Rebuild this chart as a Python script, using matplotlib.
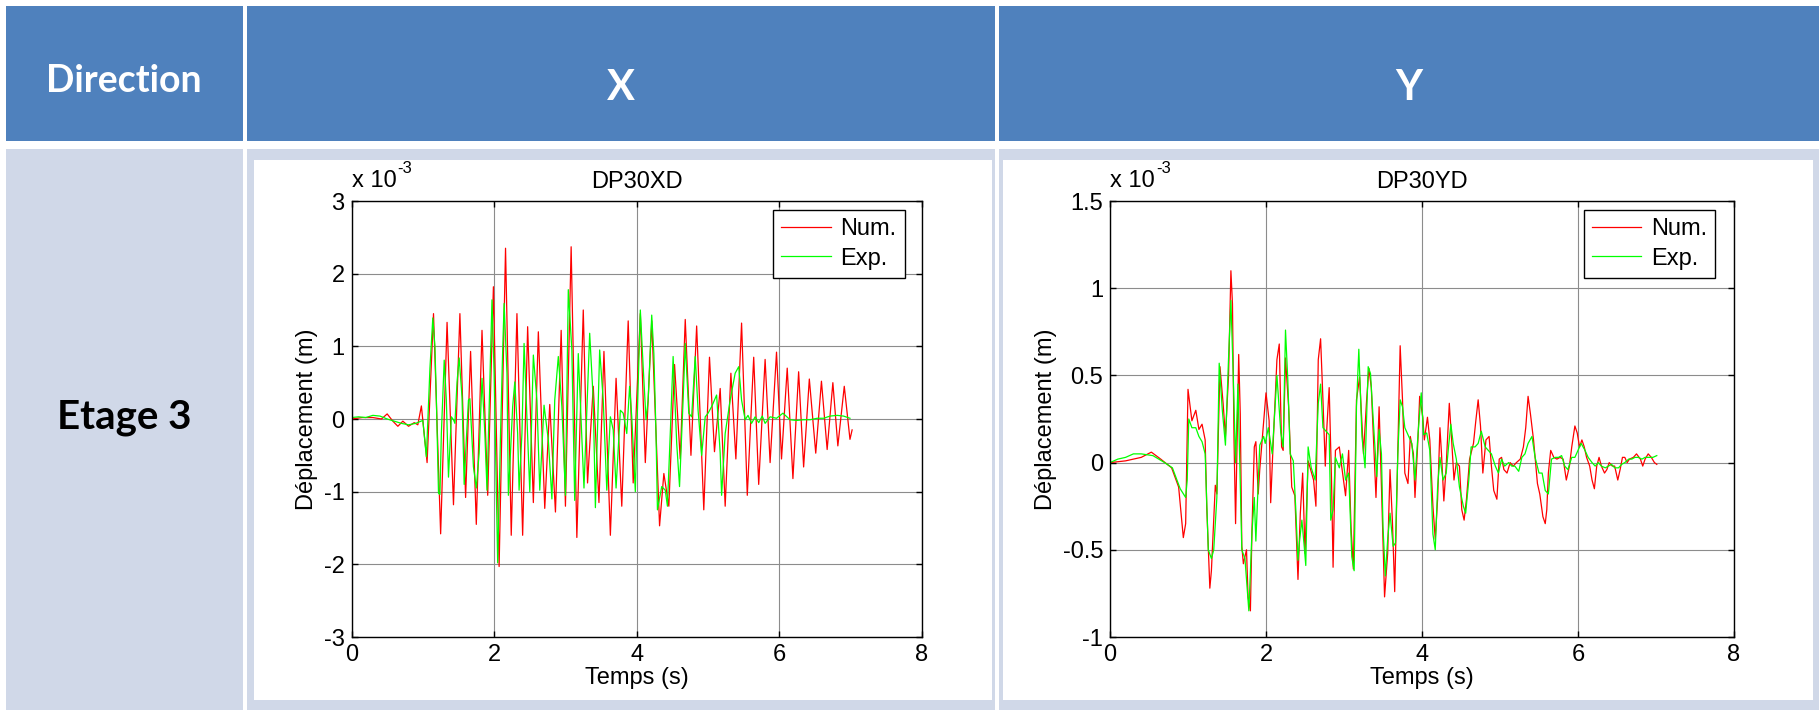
import numpy as np
import matplotlib
matplotlib.use('Agg')
import matplotlib.pyplot as plt
from matplotlib.patches import Rectangle

W, H = 1819, 710

plt.rcParams['font.family'] = ['Liberation Sans', 'DejaVu Sans']
plt.rcParams['axes.unicode_minus'] = False

# table text
col_labels = ['Direction', 'X', 'Y']
row_label = 'Etage 3'
titles = ['DP30XD', 'DP30YD']
series_labels = ['Num.', 'Exp.']

# axis ticks
xticks = [0, 2, 4, 6, 8]
yticks_x = [-3, -2, -1, 0, 1, 2, 3]
yticks_y = [-1, -0.5, 0, 0.5, 1, 1.5]
ytick_labels_y = ['-1', '-0.5', '0', '0.5', '1', '1.5']

# displacement (x 1e-3 m), (time s, value)
num_x = [(0, 0.0), (0.15, 0.02), (0.3, 0.02), (0.42, 0.0), (0.5, 0.07), (0.58, -0.03),
         (0.65, -0.1), (0.72, -0.03), (0.8, -0.1), (0.88, -0.05), (0.93, -0.08), (0.98, 0.18),
         (1.06, -0.6), (1.15, 1.45), (1.25, -1.58), (1.34, 1.33), (1.43, -1.18), (1.52, 1.45),
         (1.6, -1.08), (1.67, 0.93), (1.75, -1.45), (1.83, 1.22), (1.91, -1.05), (1.99, 1.82),
         (2.07, -2.03), (2.16, 2.35), (2.24, -1.6), (2.32, 1.45), (2.4, -1.6), (2.47, 1.27),
         (2.55, -1.15), (2.62, 1.2), (2.71, -1.23), (2.78, 0.2), (2.86, -1.28), (2.94, 1.22),
         (3.0, -1.2), (3.08, 2.37), (3.16, -1.63), (3.25, 1.5), (3.31, -0.88), (3.39, 0.45),
         (3.47, -1.15), (3.54, 0.93), (3.63, -1.6), (3.71, 0.56), (3.79, -1.2), (3.88, 1.35),
         (3.95, -0.88), (4.05, 1.45), (4.12, -0.6), (4.21, 1.35), (4.32, -1.47), (4.38, -0.75),
         (4.45, -1.2), (4.53, 0.75), (4.61, -0.55), (4.68, 1.37), (4.76, -0.5), (4.84, 1.28),
         (4.94, -1.25), (5.02, 0.85), (5.09, -0.45), (5.17, 0.42), (5.24, -1.2), (5.32, 0.63),
         (5.39, -0.55), (5.47, 1.32), (5.55, -1.05), (5.64, 0.85), (5.71, -0.9), (5.8, 0.82),
         (5.87, -0.6), (5.96, 0.92), (6.03, -0.55), (6.11, 0.7), (6.19, -0.82), (6.27, 0.65),
         (6.34, -0.66), (6.42, 0.55), (6.51, -0.47), (6.59, 0.52), (6.67, -0.42), (6.75, 0.5),
         (6.82, -0.37), (6.91, 0.45), (6.99, -0.28), (7.02, -0.15)]

exp_x = [(0, 0.02), (0.1, 0.03), (0.2, 0.02), (0.3, 0.05), (0.4, 0.04), (0.5, 0.0),
         (0.6, -0.03), (0.7, -0.06), (0.8, -0.08), (0.9, -0.06), (1.0, -0.02), (1.05, -0.52),
         (1.1, 0.7), (1.14, 1.39), (1.17, 1.0), (1.19, 0.27), (1.22, -1.02), (1.24, -1.04),
         (1.26, -0.2), (1.3, 0.81), (1.33, 0.26), (1.36, -0.8), (1.4, 0.03), (1.43, -0.01),
         (1.45, -0.06), (1.48, 0.51), (1.51, 0.84), (1.55, 0.3), (1.58, -0.9), (1.61, -0.29),
         (1.64, 0.26), (1.66, 0.28), (1.71, -0.66), (1.75, -0.95), (1.79, -0.47), (1.83, 0.56),
         (1.87, -0.2), (1.9, -0.98), (1.94, 0.49), (1.97, 1.64), (2.0, 0.63), (2.05, -1.98),
         (2.09, -0.2), (2.12, 0.95), (2.14, 1.59), (2.18, 0.63), (2.2, -1.05), (2.22, -0.66),
         (2.26, 0.17), (2.29, 0.51), (2.33, -0.2), (2.35, -0.98), (2.39, -0.2), (2.42, 1.04),
         (2.46, 0.03), (2.5, -1.0), (2.55, 0.88), (2.6, 0.26), (2.64, -0.98), (2.7, 0.19),
         (2.76, -0.29), (2.81, -1.1), (2.85, 0.26), (2.9, 0.86), (2.95, 0.17), (3.0, -1.05),
         (3.04, 1.78), (3.09, 0.95), (3.13, -1.12), (3.18, 0.9), (3.26, -0.95), (3.34, 1.18),
         (3.39, 0.26), (3.42, -1.22), (3.48, 0.95), (3.53, 0.26), (3.58, -0.98), (3.63, 0.03),
         (3.67, -0.15), (3.71, -0.95), (3.77, 0.12), (3.81, 0.08), (3.86, -0.2), (3.9, 0.45),
         (3.93, 0.03), (3.98, -1.0), (4.0, -0.2), (4.05, 1.5), (4.09, 0.72), (4.13, -0.01),
         (4.16, 0.26), (4.21, 1.43), (4.24, 0.9), (4.27, -0.2), (4.29, -1.25), (4.35, -0.93),
         (4.4, -0.98), (4.43, -1.2), (4.47, -0.2), (4.51, 0.86), (4.56, -0.33), (4.6, -0.93),
         (4.65, 0.26), (4.68, 1.04), (4.73, 0.08), (4.77, 0.03), (4.82, 0.86), (4.86, 0.12),
         (4.91, -0.5), (4.96, 0.03), (5.0, 0.08), (5.05, 0.17), (5.12, 0.33), (5.17, -0.47),
         (5.19, -1.05), (5.24, -0.2), (5.31, 0.26), (5.38, 0.63), (5.43, 0.72), (5.47, 0.26),
         (5.52, -0.01), (5.56, 0.05), (5.61, -0.06), (5.66, 0.03), (5.71, -0.05), (5.76, 0.04),
         (5.8, -0.06), (5.87, 0.03), (5.96, 0.01), (6.05, 0.08), (6.15, -0.01), (6.24, -0.02),
         (6.34, -0.01), (6.43, -0.01), (6.53, 0.01), (6.62, 0.01), (6.71, 0.04), (6.81, 0.05),
         (6.9, 0.04), (6.99, 0.01)]

num_y = [(0, 0.0), (0.2, 0.01), (0.4, 0.03), (0.53, 0.06), (0.65, 0.02), (0.79, -0.03),
         (0.88, -0.14), (0.94, -0.43), (0.97, -0.35), (1.0, 0.42), (1.05, 0.24), (1.1, 0.3),
         (1.14, 0.19), (1.18, 0.22), (1.22, 0.13), (1.24, -0.25), (1.28, -0.72), (1.3, -0.62),
         (1.35, -0.13), (1.37, -0.18), (1.41, 0.55), (1.45, 0.34), (1.48, 0.15), (1.52, 0.5),
         (1.55, 1.1), (1.57, 0.91), (1.59, 0.13), (1.61, -0.35), (1.65, 0.62), (1.67, 0.28),
         (1.69, -0.48), (1.71, -0.58), (1.75, -0.5), (1.77, -0.77), (1.8, -0.85), (1.82, -0.39),
         (1.85, 0.09), (1.87, 0.12), (1.9, -0.18), (1.92, -0.04), (1.97, 0.24), (2.0, 0.4),
         (2.04, 0.24), (2.06, -0.23), (2.09, 0.09), (2.14, 0.59), (2.17, 0.68), (2.2, 0.09),
         (2.22, 0.07), (2.25, 0.6), (2.29, 0.32), (2.33, -0.14), (2.37, -0.19), (2.41, -0.67),
         (2.44, -0.29), (2.47, -0.06), (2.5, -0.52), (2.54, 0.01), (2.61, -0.1), (2.64, -0.25),
         (2.67, 0.59), (2.7, 0.71), (2.73, 0.36), (2.76, -0.02), (2.78, 0.2), (2.81, 0.43),
         (2.84, -0.1), (2.86, -0.6), (2.89, 0.07), (2.94, 0.09), (2.97, -0.02), (3.02, -0.19),
         (3.06, 0.07), (3.09, -0.37), (3.12, -0.61), (3.16, 0.36), (3.2, 0.49), (3.25, 0.05),
         (3.29, 0.36), (3.32, 0.54), (3.35, 0.43), (3.41, -0.2), (3.45, 0.32), (3.49, -0.29),
         (3.52, -0.77), (3.56, -0.52), (3.59, -0.04), (3.62, -0.33), (3.65, -0.74), (3.69, 0.05),
         (3.72, 0.67), (3.75, 0.36), (3.78, -0.06), (3.82, -0.12), (3.85, 0.15), (3.89, 0.05),
         (3.91, -0.2), (3.95, 0.15), (3.97, 0.38), (4.01, 0.26), (4.03, 0.13), (4.07, 0.26),
         (4.1, 0.13), (4.14, -0.25), (4.17, -0.44), (4.2, -0.21), (4.23, 0.2), (4.25, 0.05),
         (4.28, -0.22), (4.31, -0.02), (4.35, 0.34), (4.38, 0.13), (4.41, -0.1), (4.44, 0.0),
         (4.48, -0.02), (4.51, -0.27), (4.54, -0.33), (4.57, -0.21), (4.61, 0.02), (4.66, 0.11),
         (4.69, 0.24), (4.72, 0.36), (4.75, 0.21), (4.78, -0.06), (4.82, 0.13), (4.86, 0.15),
         (4.89, -0.02), (4.92, -0.16), (4.96, -0.21), (4.99, 0.02), (5.02, 0.03), (5.05, -0.04),
         (5.09, -0.06), (5.13, 0.0), (5.17, -0.02), (5.21, 0.0), (5.26, 0.02), (5.3, 0.09),
         (5.33, 0.2), (5.36, 0.38), (5.39, 0.28), (5.43, 0.13), (5.45, 0.03), (5.48, -0.12),
         (5.51, -0.18), (5.55, -0.31), (5.58, -0.35), (5.6, -0.27), (5.62, -0.06), (5.65, 0.07),
         (5.69, 0.03), (5.73, 0.02), (5.77, 0.03), (5.81, 0.02), (5.85, -0.1), (5.89, -0.02),
         (5.92, 0.09), (5.96, 0.21), (5.99, 0.17), (6.02, 0.09), (6.05, 0.13), (6.08, 0.09),
         (6.11, 0.03), (6.15, -0.02), (6.18, -0.1), (6.21, -0.15), (6.24, -0.02), (6.27, 0.03),
         (6.3, -0.02), (6.34, -0.06), (6.37, -0.04), (6.4, 0.0), (6.44, -0.02), (6.47, -0.02),
         (6.51, -0.1), (6.54, -0.04), (6.57, 0.03), (6.6, 0.03), (6.63, 0.0), (6.66, 0.02),
         (6.71, 0.03), (6.75, 0.05), (6.8, 0.02), (6.83, -0.02), (6.86, 0.02), (6.9, 0.05),
         (6.94, 0.03), (6.98, 0.0), (7.01, -0.01)]

exp_y = [(0, 0.0), (0.1, 0.02), (0.2, 0.03), (0.3, 0.05), (0.4, 0.05), (0.55, 0.04),
         (0.7, 0.0), (0.8, -0.03), (0.9, -0.15), (0.97, -0.2), (0.99, -0.1), (1.01, 0.25),
         (1.05, 0.2), (1.1, 0.2), (1.14, 0.15), (1.18, 0.12), (1.22, 0.05), (1.26, -0.5),
         (1.3, -0.55), (1.33, -0.5), (1.37, -0.2), (1.4, 0.57), (1.44, 0.3), (1.48, 0.1),
         (1.52, 0.6), (1.55, 0.93), (1.58, 0.5), (1.61, 0.0), (1.64, 0.45), (1.69, -0.5),
         (1.73, -0.55), (1.78, -0.85), (1.82, -0.4), (1.85, -0.2), (1.87, -0.45), (1.92, 0.1),
         (1.97, 0.15), (1.99, 0.11), (2.03, 0.2), (2.08, 0.05), (2.14, 0.5), (2.19, 0.17),
         (2.22, 0.09), (2.25, 0.76), (2.28, 0.47), (2.31, 0.05), (2.35, 0.01), (2.38, -0.25),
         (2.41, -0.56), (2.43, -0.45), (2.46, -0.33), (2.49, -0.48), (2.51, -0.59), (2.54, 0.09),
         (2.58, -0.03), (2.63, -0.1), (2.67, 0.34), (2.7, 0.45), (2.73, 0.2), (2.77, 0.18),
         (2.81, 0.16), (2.83, -0.33), (2.86, -0.27), (2.89, 0.03), (2.94, -0.03), (2.98, 0.05),
         (3.02, -0.1), (3.06, -0.06), (3.1, -0.54), (3.13, -0.62), (3.16, 0.32), (3.19, 0.65),
         (3.23, 0.15), (3.27, -0.03), (3.31, 0.55), (3.34, 0.51), (3.37, 0.28), (3.42, -0.08),
         (3.45, 0.19), (3.48, 0.05), (3.5, -0.37), (3.53, -0.65), (3.56, -0.44), (3.59, -0.29),
         (3.63, -0.48), (3.66, -0.46), (3.69, 0.05), (3.72, 0.36), (3.75, 0.32), (3.78, 0.2),
         (3.83, 0.15), (3.87, 0.11), (3.91, -0.1), (3.95, 0.17), (3.99, 0.4), (4.02, 0.16),
         (4.06, 0.17), (4.1, 0.07), (4.14, -0.41), (4.17, -0.5), (4.2, -0.14), (4.23, 0.03),
         (4.27, -0.1), (4.31, -0.06), (4.34, 0.09), (4.37, 0.22), (4.4, 0.11), (4.44, 0.02),
         (4.48, -0.14), (4.53, -0.25), (4.56, -0.29), (4.6, -0.1), (4.63, 0.09), (4.68, 0.09),
         (4.72, 0.11), (4.76, 0.18), (4.81, 0.09), (4.85, 0.07), (4.89, 0.05), (4.94, -0.02),
         (4.98, -0.06), (5.02, 0.02), (5.06, -0.02), (5.11, 0.0), (5.15, -0.02), (5.19, -0.02),
         (5.24, -0.05), (5.28, 0.03), (5.32, 0.05), (5.36, 0.11), (5.41, 0.15), (5.45, 0.03),
         (5.5, -0.06), (5.54, -0.06), (5.58, -0.16), (5.62, -0.18), (5.66, 0.02), (5.71, 0.03),
         (5.75, 0.03), (5.79, 0.04), (5.83, -0.02), (5.87, -0.04), (5.92, 0.03), (5.96, 0.03),
         (6.0, 0.07), (6.04, 0.11), (6.09, 0.07), (6.13, 0.03), (6.18, 0.0), (6.22, -0.02),
         (6.26, 0.0), (6.3, -0.02), (6.35, -0.03), (6.39, -0.02), (6.43, -0.01), (6.47, -0.03),
         (6.52, -0.03), (6.56, -0.01), (6.6, 0.0), (6.65, 0.02), (6.69, 0.02), (6.73, 0.03),
         (6.77, 0.03), (6.82, 0.02), (6.86, 0.03), (6.92, 0.03), (6.96, 0.03), (7.01, 0.04)]

BLUE = '#4F81BD'
LAVENDER = '#D0D8E8'
FS = 17

fig = plt.figure(figsize=(W / 100, H / 100), dpi=100)
fig.patch.set_facecolor('white')


def box(x0, y0, x1, y1, color):
    """rectangle given in pixel coords, origin top left"""
    fig.add_artist(Rectangle((x0 / W, 1 - y1 / H), (x1 - x0) / W, (y1 - y0) / H,
                             transform=fig.transFigure, facecolor=color,
                             edgecolor='none', zorder=-5))


def label(x, y, s, size, color):
    fig.text(x / W, 1 - y / H, s, ha='center', va='center', fontsize=size,
             color=color, fontweight='bold', family=['Lato', 'DejaVu Sans'])


# table cells
cols = [(6, 243), (247, 995), (999, 1819)]
for x0, x1 in cols:
    box(x0, 6, x1, 141, BLUE)
    box(x0, 149, x1, 710, LAVENDER)
box(254, 160, 992, 700, 'white')
box(1003, 160, 1813, 700, 'white')

label(124, 81, col_labels[0], 27, 'white')
label(621, 88, col_labels[1], 30, 'white')
label(1409, 88, col_labels[2], 30, 'white')
label(124, 418, row_label, 29, 'black')


def draw(rect, num, exp, title, yticks, ylabels, ylim, legx):
    ax = fig.add_axes(rect)
    t1, v1 = np.array(num).T
    t2, v2 = np.array(exp).T
    ax.plot(t1, v1, color='#FF0000', lw=0.9, label=series_labels[0])
    ax.plot(t2, v2, color='#00FF00', lw=0.9, label=series_labels[1])
    ax.set_xlim(0, 8)
    ax.set_ylim(*ylim)
    ax.set_xticks(xticks)
    ax.set_yticks(yticks)
    ax.set_yticklabels(ylabels)
    ax.grid(True, color='#8c8c8c', lw=0.8)
    ax.set_axisbelow(True)
    ax.tick_params(direction='in', top=True, right=True, length=4, width=1,
                   labelsize=FS, pad=5)
    for s in ax.spines.values():
        s.set_linewidth(1.0)
    ax.set_title(title, fontsize=FS, pad=9)
    ax.set_xlabel('Temps (s)', fontsize=FS, labelpad=1)
    ax.set_ylabel('Déplacement (m)', fontsize=FS, labelpad=4)
    base = ax.text(0.0, 1.02, 'x 10', transform=ax.transAxes, fontsize=FS,
                   ha='left', va='bottom')
    ax.annotate('-3', xy=(1, 1), xycoords=base, xytext=(1, 1),
                textcoords='offset points', fontsize=12, ha='left', va='center')
    leg = ax.legend(loc='upper right', bbox_to_anchor=(legx, 0.979), borderaxespad=0,
                    fontsize=FS, fancybox=False, framealpha=1, edgecolor='black',
                    handlelength=2.1, handletextpad=0.4, borderpad=0.35,
                    labelspacing=0.3)
    leg.get_frame().set_linewidth(1.0)
    return ax


draw([351.5 / W, 73 / H, 570.5 / W, 436 / H], num_x, exp_x, titles[0],
     yticks_x, [str(v) for v in yticks_x], (-3, 3), 0.970)
draw([1110 / W, 73 / H, 624 / W, 436 / H], num_y, exp_y, titles[1],
     yticks_y, ytick_labels_y, (-1, 1.5), 0.970)

fig.savefig('out.png', dpi=100)
